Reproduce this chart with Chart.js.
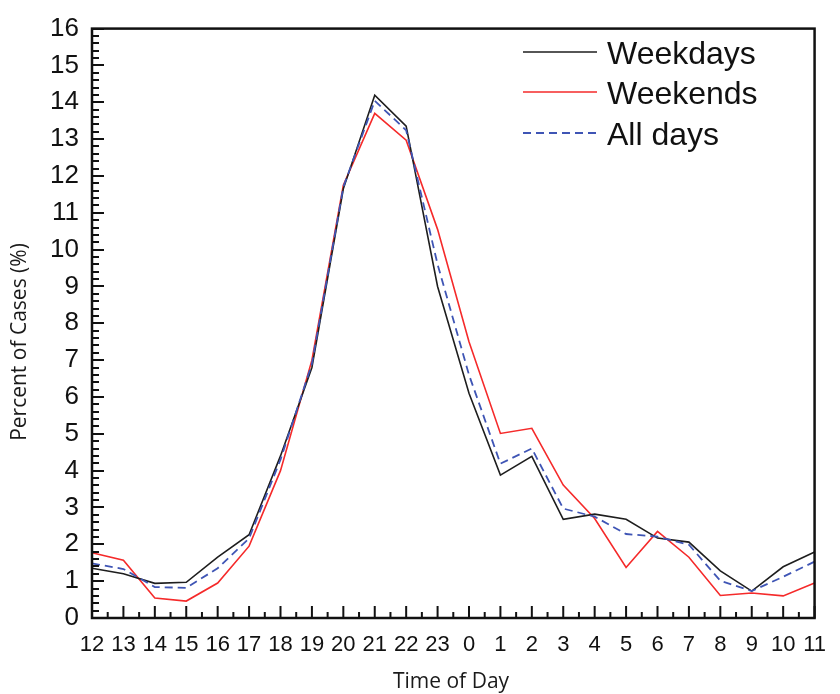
<!DOCTYPE html>
<html>
<head>
<meta charset="utf-8">
<script src="https://cdn.jsdelivr.net/npm/chart.js@4"></script>
<style>
  html, body { margin: 0; padding: 0; background: #fff; }
  #c { display: block; }
</style>
</head>
<body>
<canvas id="c" width="840" height="694"></canvas>
<script>
const hours = ['12','13','14','15','16','17','18','19','20','21','22','23','0','1','2','3','4','5','6','7','8','9','10','11'];
const weekdays = [1.35,1.2,0.94,0.97,1.65,2.26,4.4,6.8,11.65,14.19,13.35,9.0,6.1,3.88,4.39,2.68,2.82,2.68,2.17,2.06,1.28,0.73,1.39,1.79];
const weekends = [1.77,1.57,0.54,0.46,0.95,1.95,4.0,7.0,11.75,13.7,12.97,10.55,7.5,5.01,5.15,3.61,2.7,1.37,2.35,1.65,0.61,0.68,0.6,0.95];
const allDays  = [1.48,1.33,0.84,0.82,1.35,2.16,4.3,6.9,11.7,14.04,13.24,9.6,6.6,4.19,4.6,2.97,2.75,2.28,2.21,1.99,1.01,0.73,1.12,1.53];
const seriesNames = ['Weekdays','Weekends','All days'];
const yMin = 0, yMax = 16, yStep = 1;
const xTitle = 'Time of Day';
const yTitle = 'Percent of Cases (%)';

const COLORS = { weekdays: '#1e1e1e', weekends: '#f52a2a', all: '#3f55b5' };

const framePlugin = {
  id: 'frame',
  afterDatasetsDraw(chart) {
    const { ctx, chartArea: a, scales } = chart;
    const xs = scales.x, ys = scales.y;
    ctx.save();
    ctx.strokeStyle = '#111';
    ctx.lineWidth = 2;
    ctx.beginPath();
    for (let v = yMin; v <= yMax + 1e-9; v += 0.2) {
      const y = Math.round(ys.getPixelForValue(v));
      const major = Math.abs(v - Math.round(v)) < 1e-6;
      const len = major ? 12 : 7;
      ctx.moveTo(a.left, y);
      ctx.lineTo(a.left + len, y);
    }
    for (let i = 0; i < hours.length; i++) {
      const x = xs.getPixelForValue(i);
      ctx.moveTo(x, a.bottom);
      ctx.lineTo(x, a.bottom - 12);
      if (i < hours.length - 1) {
        const xm = (x + xs.getPixelForValue(i + 1)) / 2;
        ctx.moveTo(xm, a.bottom);
        ctx.lineTo(xm, a.bottom - 6);
      }
    }
    ctx.stroke();
    ctx.lineWidth = 2.5;
    ctx.strokeRect(a.left, a.top, a.right - a.left, a.bottom - a.top);
    ctx.restore();
  },
  afterDraw(chart) {
    const { ctx } = chart;
    ctx.save();
    ctx.fillStyle = '#1a1a1a';
    ctx.font = '21px "Open Sans"';
    ctx.textAlign = 'center';
    ctx.textBaseline = 'alphabetic';
    ctx.fillText(xTitle, 451, 688);
    ctx.save();
    ctx.translate(26, 342);
    ctx.rotate(-Math.PI / 2);
    ctx.fillText(yTitle, 0, 0);
    ctx.restore();
    const ds = chart.data.datasets;
    const rowsY = [52, 92, 133];
    ctx.font = '32px "Liberation Sans"';
    ctx.textAlign = 'left';
    ds.forEach((d, i) => {
      const y = rowsY[i];
      ctx.save();
      ctx.strokeStyle = d.borderColor;
      ctx.lineWidth = d.borderWidth;
      ctx.setLineDash(d.borderDash || []);
      ctx.beginPath();
      ctx.moveTo(523, y);
      ctx.lineTo(597, y);
      ctx.stroke();
      ctx.restore();
      ctx.fillStyle = '#111';
      ctx.fillText(d.label, 607, y + 11.5);
    });
    ctx.restore();
  }
};

new Chart(document.getElementById('c'), {
  type: 'line',
  data: {
    labels: hours,
    datasets: [
      { label: seriesNames[0], data: weekdays, borderColor: COLORS.weekdays, borderWidth: 1.6, pointRadius: 0, tension: 0, order: 1 },
      { label: seriesNames[1], data: weekends, borderColor: COLORS.weekends, borderWidth: 1.6, pointRadius: 0, tension: 0, order: 2 },
      { label: seriesNames[2], data: allDays, borderColor: COLORS.all, borderWidth: 1.8, borderDash: [8, 5], pointRadius: 0, tension: 0, order: 0 }
    ]
  },
  options: {
    responsive: false,
    animation: false,
    events: [],
    layout: { padding: { top: 18, right: 10, left: 0, bottom: 0 }, autoPadding: false },
    plugins: { legend: { display: false }, tooltip: { enabled: false } },
    scales: {
      x: {
        type: 'category',
        offset: false,
        grid: { display: false, drawTicks: false },
        border: { display: false },
        ticks: { color: '#111', font: { family: '"Liberation Sans"', size: 22 }, padding: 14, maxRotation: 0, autoSkip: false },
        afterFit(s) { s.height = 76; }
      },
      y: {
        min: yMin, max: yMax,
        grid: { display: false, drawTicks: false },
        border: { display: false },
        ticks: { stepSize: yStep, color: '#111', font: { family: '"Liberation Sans"', size: 26 }, padding: 13 },
        afterFit(s) { s.width = 92; }
      }
    }
  },
  plugins: [framePlugin]
});
</script>
</body>
</html>
